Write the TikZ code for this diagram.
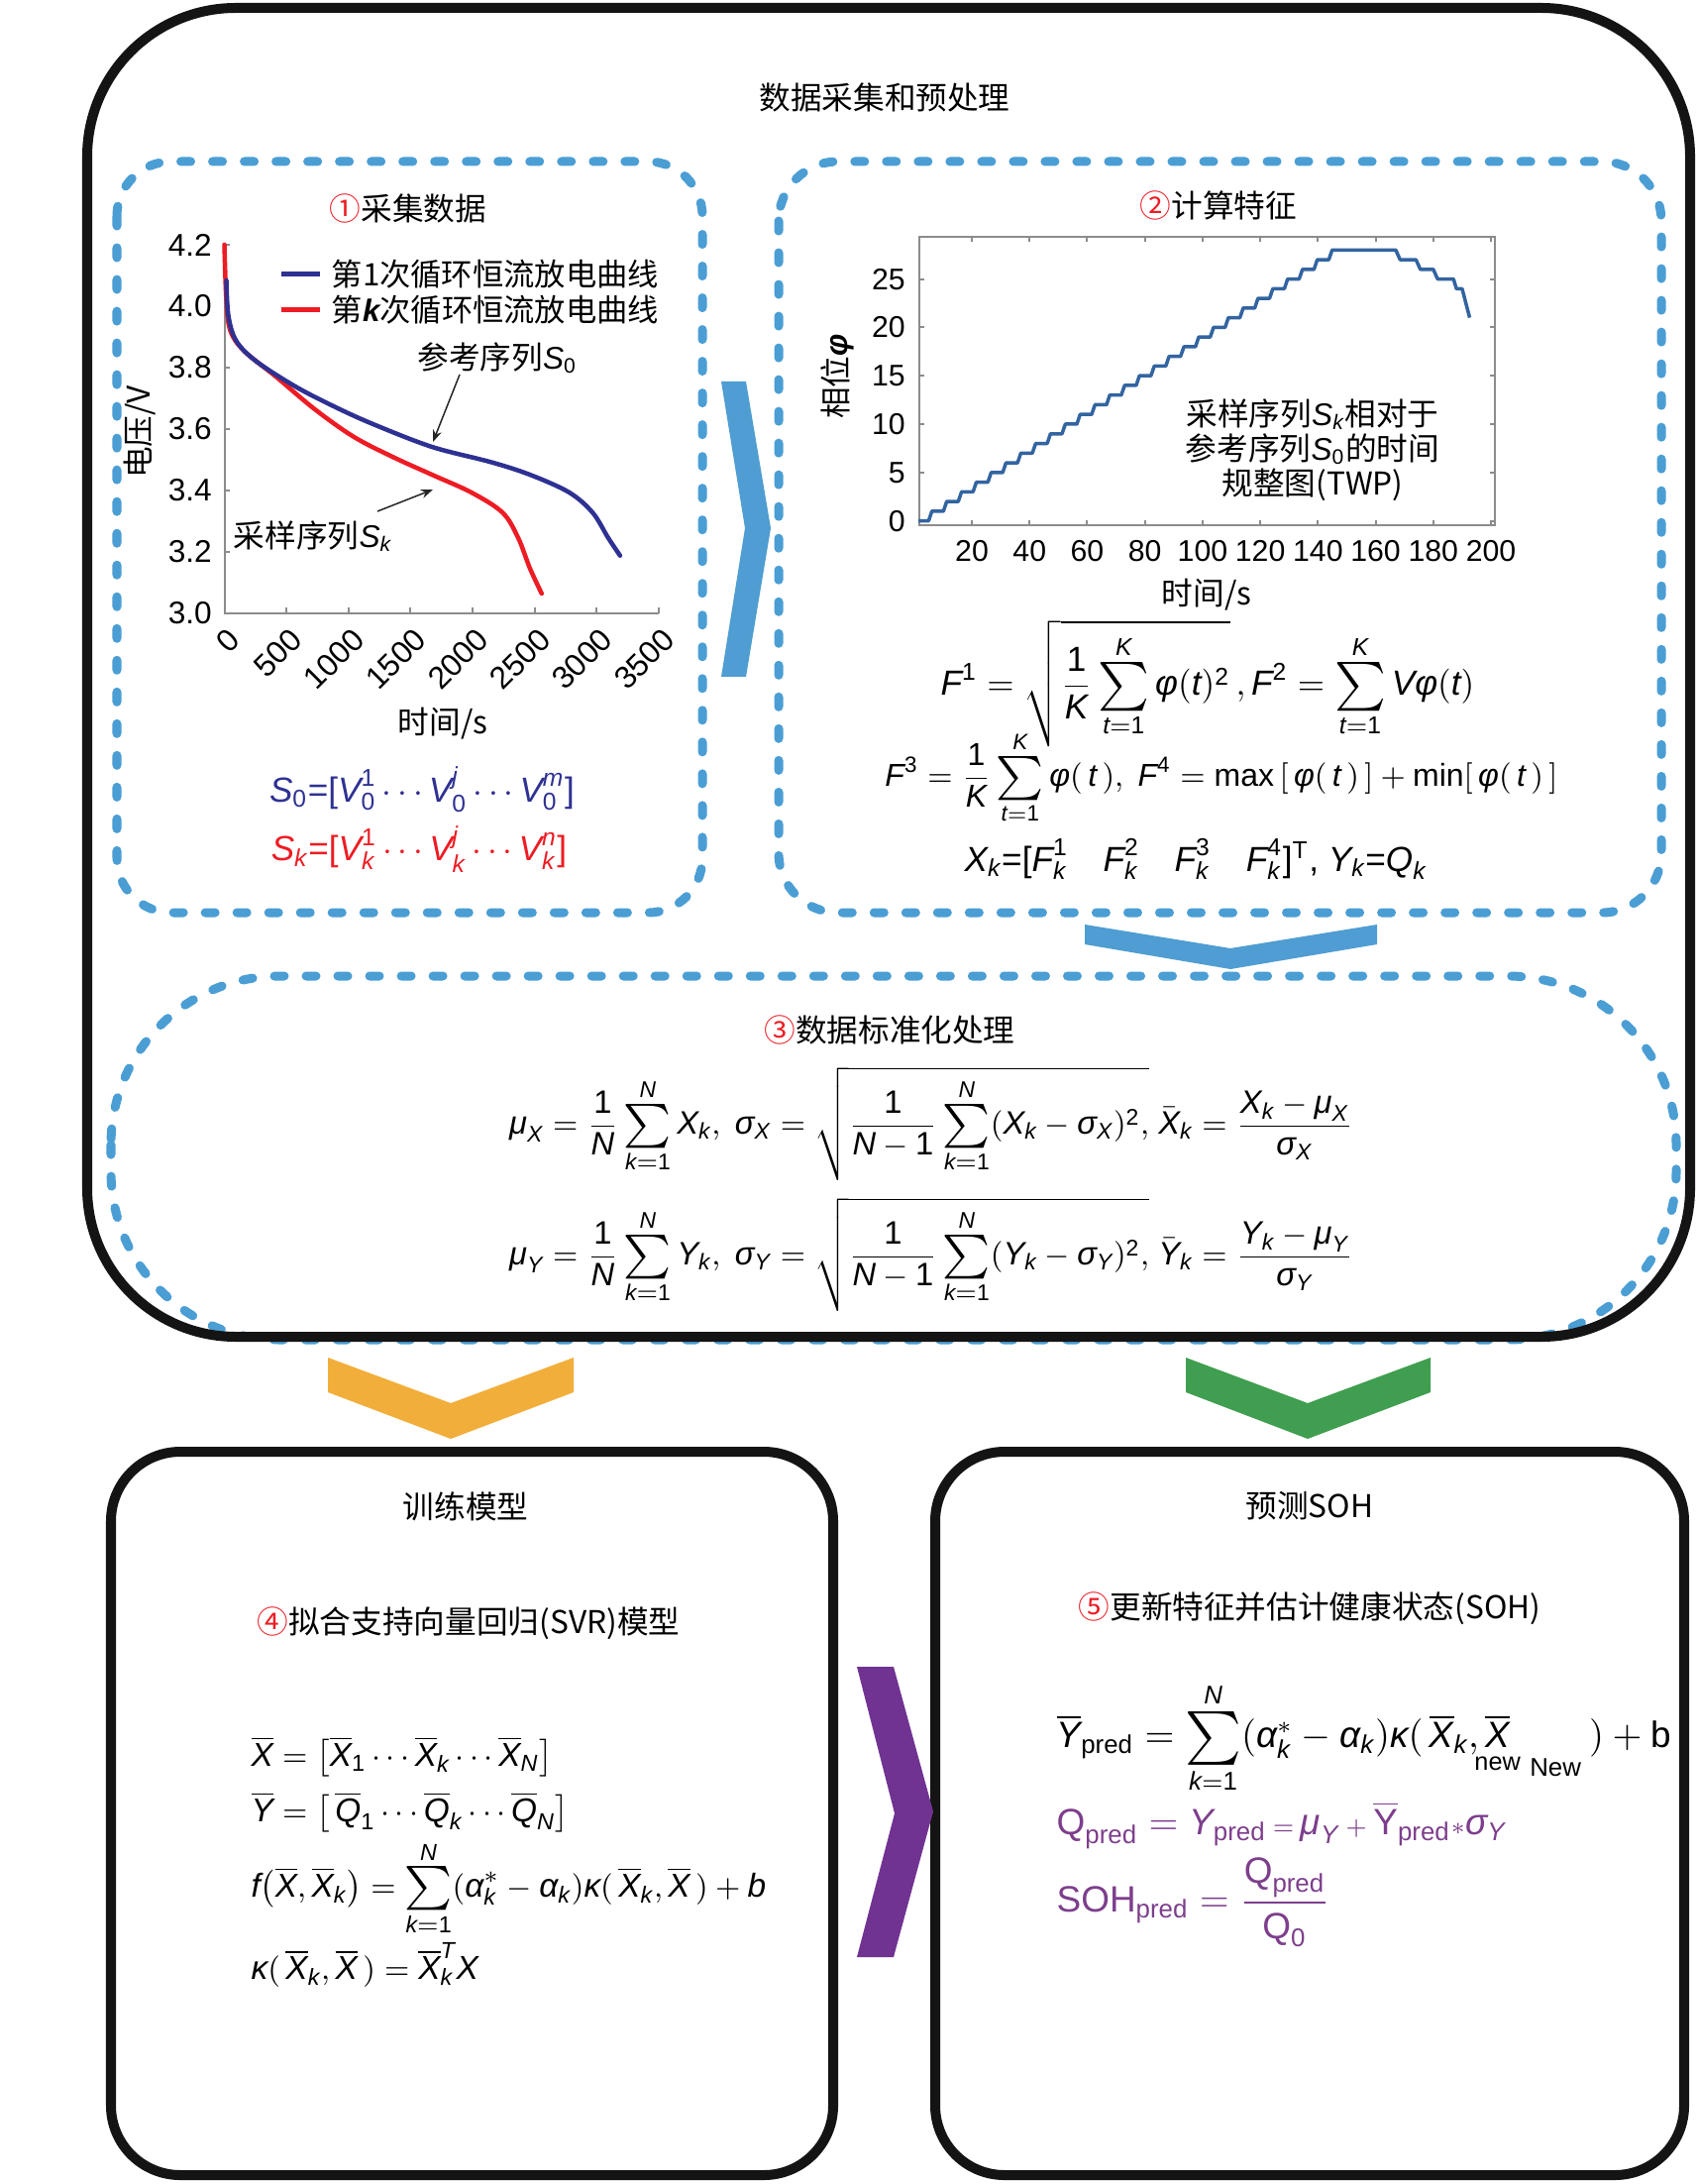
\documentclass[tikz,border=0pt]{standalone}
\usepackage{amsmath}
\usepackage{graphicx}
\usepackage{fontspec}
\setmainfont{Liberation Sans}
\newfontfamily\cjk{Noto Sans CJK SC}
\usetikzlibrary{arrows.meta}
\definecolor{dashblue}{RGB}{75,158,212}
\definecolor{chevblue}{RGB}{79,157,210}
\definecolor{chevorange}{RGB}{242,174,58}
\definecolor{chevgreen}{RGB}{64,158,80}
\definecolor{chevpurple}{RGB}{112,51,145}
\definecolor{ptext}{RGB}{125,62,140}
\definecolor{sblue}{RGB}{46,49,146}
\definecolor{sred}{RGB}{237,28,36}
\definecolor{stepblue}{RGB}{50,100,160}
\newcommand\mi[1]{\textit{#1}}
\newcommand\dg[1]{\textup{#1}}
\newcommand\msum{\mathop{\vcenter{\hbox{\scalebox{1.4}{$\textstyle\sum$}}}}\limits}
\tikzset{
  dbox/.style={draw=dashblue, line width=0.09cm, line cap=round, dash pattern=on 0.1cm off 0.22cm},
  obox/.style={draw=black!92, line width=0.1cm},
  title/.style={font=\fontsize{9}{11}\selectfont\cjk, inner sep=0pt},
  tick/.style={font=\fontsize{9}{11}\selectfont, inner sep=1pt},
  tickb/.style={font=\fontsize{8.6}{10}\selectfont, inner sep=1pt},
  legtext/.style={font=\fontsize{8.9}{11}\selectfont\cjk, inner sep=0pt, anchor=west},
  ann/.style={font=\fontsize{9}{11}\selectfont\cjk, inner sep=0pt},
  annarrow/.style={draw=black!85, line width=0.015cm, -{Stealth[length=0.12cm,width=0.09cm]}},
  axisline/.style={draw=black!45, line width=0.02cm},
  fml/.style={inner sep=0pt},
}
\begin{document}
\begin{tikzpicture}[x=0.01cm,y=-0.01cm]
\useasboundingbox (0,0) rectangle (1713,2204);
\fill[white] (0,0) rectangle (1713,2204);

% ---------------- boxes ----------------
\draw[dbox, rounded corners=0.55cm] (118,163) rectangle (709,921);
\draw[dbox, rounded corners=0.6cm] (786,163) rectangle (1677,921);
\draw[dbox, rounded corners=1.7cm] (112,985) rectangle (1692,1352);
\draw[obox, rounded corners=1.5cm] (88,8) rectangle (1706,1349);
\draw[obox, rounded corners=0.7cm] (112,1465) rectangle (841,2195);
\draw[obox, rounded corners=0.7cm] (944,1465) rectangle (1700,2195);

% ---------------- chevrons ----------------
\fill[chevblue] (728,385) -- (753,385) -- (778,533) -- (753,683) -- (728,683) -- (752,533) -- cycle;
\fill[chevblue] (1095,933) -- (1242,957) -- (1390,933) -- (1390,953) -- (1242,978) -- (1095,953) -- cycle;
\fill[chevorange] (331,1370) -- (455,1416) -- (579,1370) -- (579,1405) -- (455,1452) -- (331,1405) -- cycle;
\fill[chevgreen] (1197,1370) -- (1320,1416) -- (1444,1370) -- (1444,1405) -- (1320,1452) -- (1197,1405) -- cycle;
\fill[chevpurple] (865,1682) -- (902,1682) -- (942,1828) -- (902,1975) -- (865,1975) -- (903,1830) -- cycle;

% ---------------- titles ----------------
\node[title] (tmain) at (893,98) {数据采集和预处理};
\node[title] (t1) at (412,210) {{\color{sred}①}采集数据};
\node[title] (t2) at (1230,207) {{\color{sred}②}计算特征};
\node[title] (t3) at (898,1039) {{\color{sred}③}数据标准化处理};
\node[title] (t4) at (470,1520) {训练模型};
\node[title] (t4b) at (473,1638) {{\color{sred}④}拟合支持向量回归(SVR)模型};
\node[title] (t5) at (1322,1520) {预测SOH};
\node[title] (t5b) at (1322,1623) {{\color{sred}⑤}更新特征并估计健康状态(SOH)};

% ---------------- plot 1 ----------------
\draw[axisline] (226.5,247) -- (226.5,619) -- (665,619);
\foreach \t [count=\i] in {0,500,1000,1500,2000,2500,3000,3500}{
  \draw[axisline] ({226.5+0.1253*\t},619) -- ({226.5+0.1253*\t},613);
  \node[tick, rotate=45, anchor=east] (px\i) at ({239.5+0.1253*\t},637) {\t};
}
\foreach \v/\lab [count=\i] in {0/3.0,1/3.2,2/3.4,3/3.6,4/3.8,5/4.0,6/4.2}{
  \draw[axisline] (226.5,{619-62*\v}) -- (232,{619-62*\v});
  \node[tick, anchor=east] (py\i) at (218,{619-62*\v}) {\lab};
}
\node[title, rotate=90] (ylab1) at (141,436) {电压/V};
\node[title] (xlab1) at (447,730) {时间/s};
% curves
\draw[sred, line width=0.045cm, line cap=round] plot[smooth, tension=0.55] coordinates {
 (226.5,246.9) (228.5,303.1) (232.5,333.7) (246.3,354.1) (277.9,379.6) (317.5,412.8) (357.0,440.8)
 (396.6,461.2) (436.1,479.1) (475.6,496.9) (507.3,517.3) (523.1,542.9) (534.9,573.5) (546.8,599.0)};
\draw[sblue, line width=0.045cm, line cap=round] plot[smooth, tension=0.55] coordinates {
 (228.5,283) (230.5,318.4) (238.4,343.9) (258.2,364.3) (297.7,389.8) (337.2,410.2) (376.8,428.1)
 (436.1,451.0) (495.4,466.3) (535.0,479.1) (574.5,496.9) (598.2,517.3) (614.0,542.9) (625.9,560.7)};
% legend
\draw[sblue, line width=0.05cm] (284,277) coordinate (lg1a) -- (323,277) coordinate (lg1b);
\node[legtext] (lg1) at (334,277) {第1次循环恒流放电曲线};
\draw[sred, line width=0.05cm] (284,313) coordinate (lg2a) -- (323,313) coordinate (lg2b);
\node[legtext] (lg2) at (334,313) {第{\fontspec{Liberation Sans}\bfseries\itshape k}次循环恒流放电曲线};
% annotations
\node[ann] (ref0) at (502,361) {参考序列{\fontspec{Liberation Sans}$\mi{S}_{\dg{0}}$}};
\node[ann] (samp) at (316,541) {采样序列{\fontspec{Liberation Sans}$\mi{S}_{\mi{k}}$}};
\coordinate (a1s) at (464,378);
\coordinate (a1e) at (437,446);
\coordinate (a2s) at (381,516);
\coordinate (a2e) at (437,494);
\draw[annarrow] (a1s) -- (a1e);
\draw[annarrow] (a2s) -- (a2e);
% sequences
\node[fml, text=sblue, font=\fontsize{10}{12}\selectfont] (s0) at (426,797)
 {$\mi{S}_{\dg{0}}$=[$\mi{V}_{\dg{0}}^{\dg{1}}\cdots\mi{V}_{\dg{0}}^{\mi{j}}\cdots\mi{V}_{\dg{0}}^{\mi{m}}$]};
\node[fml, text=sred, font=\fontsize{10}{12}\selectfont] (sk) at (423,857)
 {$\mi{S}_{\mi{k}}$=[$\mi{V}_{\mi{k}}^{\dg{1}}\cdots\mi{V}_{\mi{k}}^{\mi{j}}\cdots\mi{V}_{\mi{k}}^{\mi{n}}$]};

% ---------------- plot 2 ----------------
\draw[axisline] (928,239.5) rectangle (1509,530);
\foreach \t [count=\i] in {20,40,...,200}{
  \draw[axisline] ({922.8+2.911*\t},530) -- ({922.8+2.911*\t},525);
  \draw[axisline] ({922.8+2.911*\t},239.5) -- ({922.8+2.911*\t},244.5);
  \node[tickb, anchor=north] (qx\i) at ({922.8+2.911*\t},541) {\t};
}
\foreach \v [count=\i] in {0,5,...,25}{
  \draw[axisline] (928,{525.6-9.76*\v}) -- (933,{525.6-9.76*\v});
  \draw[axisline] (1509,{525.6-9.76*\v}) -- (1504,{525.6-9.76*\v});
  \node[tickb, anchor=east] (qy\i) at (918,{525.6-9.76*\v}) {\v};
}
\node[title, rotate=90] (ylab2) at (845,380) {相位{\fontspec{Liberation Sans}\bfseries\itshape φ}};
\node[title] (xlab2) at (1218,600) {时间/s};
\draw[stepblue, line width=0.035cm, line join=round] ({922.8+2.911*1.5},525.6)
  \foreach \k in {0,...,27}{ -- ({922.8+2.911*(5+5.14*\k)},{525.6-9.76*\k}) -- ({922.8+2.911*(6.14+5.14*\k)},{525.6-9.76*(\k+1)}) }
  -- (1408.9,252.3) -- (1413.3,262.1) -- (1429.3,262.1) -- (1433.7,271.8) -- (1446.8,271.8) -- (1451.1,281.6)
  -- (1467.2,281.6) -- (1470.1,291.4) -- (1475.9,291.4) -- (1483.5,320.6);
\node[ann, align=center] (twp) at (1325,454) {采样序列{\fontspec{Liberation Sans}$\mi{S}_{\mi{k}}$}相对于\\[-1pt]参考序列{\fontspec{Liberation Sans}$\mi{S}_{\dg{0}}$}的时间\\[-1pt]规整图(TWP)};

% formulas box 2
\node[fml, font=\fontsize{10}{12}\selectfont] (f1) at (1219,690)
 {$\mi{F}^{\dg{1}} = \sqrt{\dfrac{\dg{1}}{\mi{K}}\msum_{\mi{t}=\dg{1}}^{\mi{K}}\mi{φ}(\mi{t})^{\dg{2}}}\,,\mi{F}^{\dg{2}} = \msum_{\mi{t}=\dg{1}}^{\mi{K}}\mi{V}\mi{φ}(\mi{t})$};
\node[fml, font=\fontsize{9.1}{11}\selectfont] (f3) at (1233,785)
 {$\mi{F}^{\dg{3}} = \dfrac{\dg{1}}{\mi{K}}\msum_{\mi{t}=\dg{1}}^{\mi{K}}\mi{φ}(\,\mi{t}\,),\ \mi{F}^{\dg{4}} = \max\,[\,\mi{φ}(\,\mi{t}\,)\,] + \min[\,\mi{φ}(\,\mi{t}\,)\,]$};
\node[fml, font=\fontsize{10}{12}\selectfont] (fx) at (1207,867)
 {$\mi{X}_{\mi{k}}$=[$\mi{F}_{\mi{k}}^{\dg{1}}\quad\mi{F}_{\mi{k}}^{\dg{2}}\quad\mi{F}_{\mi{k}}^{\dg{3}}\quad\mi{F}_{\mi{k}}^{\dg{4}}$]$^{\mathrm{T}}$, $\mi{Y}_{\mi{k}}$=$\mi{Q}_{\mi{k}}$};

% formulas box 3
\node[fml, font=\fontsize{9.3}{11}\selectfont] (g1) at (940,1134)
 {$\mi{μ}_{\mi{X}} = \dfrac{\dg{1}}{\mi{N}}\msum_{\mi{k}=\dg{1}}^{\mi{N}}\mi{X}_{\mi{k}},\ \mi{σ}_{\mi{X}} = \sqrt{\dfrac{\dg{1}}{\mi{N}-\dg{1}}\msum_{\mi{k}=\dg{1}}^{\mi{N}}(\mi{X}_{\mi{k}}-\mi{σ}_{\mi{X}})^{\dg{2}},}\ \bar{\mi{X}}_{\mi{k}} = \dfrac{\mi{X}_{\mi{k}}-\mi{μ}_{\mi{X}}}{\mi{σ}_{\mi{X}}}$};
\node[fml, font=\fontsize{9.3}{11}\selectfont] (g2) at (940,1266)
 {$\mi{μ}_{\mi{Y}} = \dfrac{\dg{1}}{\mi{N}}\msum_{\mi{k}=\dg{1}}^{\mi{N}}\mi{Y}_{\mi{k}},\ \mi{σ}_{\mi{Y}} = \sqrt{\dfrac{\dg{1}}{\mi{N}-\dg{1}}\msum_{\mi{k}=\dg{1}}^{\mi{N}}(\mi{Y}_{\mi{k}}-\mi{σ}_{\mi{Y}})^{\dg{2}},}\ \bar{\mi{Y}}_{\mi{k}} = \dfrac{\mi{Y}_{\mi{k}}-\mi{μ}_{\mi{Y}}}{\mi{σ}_{\mi{Y}}}$};

% formulas box 4
\node[fml, anchor=west, font=\fontsize{9.5}{12}\selectfont] (h1) at (253,1773)
 {$\overline{\mi{X}} = \big[\overline{\mi{X}}_{\dg{1}}\cdots\overline{\mi{X}}_{\mi{k}}\cdots\overline{\mi{X}}_{\mi{N}}\big]$};
\node[fml, anchor=west, font=\fontsize{9.5}{12}\selectfont] (h2) at (253,1829)
 {$\overline{\mi{Y}} = \big[\,\overline{\mi{Q}}_{\dg{1}}\cdots\overline{\mi{Q}}_{\mi{k}}\cdots\overline{\mi{Q}}_{\mi{N}}\big]$};
\node[fml, anchor=west, font=\fontsize{9.5}{12}\selectfont] (h3) at (253,1906)
 {$\mi{f}\big(\overline{\mi{X}},\overline{\mi{X}}_{\mi{k}}\big) = \msum_{\mi{k}=\dg{1}}^{\mi{N}}(\mi{α}_{\mi{k}}^{*}-\mi{α}_{\mi{k}})\mi{κ}(\,\overline{\mi{X}}_{\mi{k}},\overline{\mi{X}}\,) + \mi{b}$};
\node[fml, anchor=west, font=\fontsize{9.5}{12}\selectfont] (h4) at (253,1983)
 {$\mi{κ}(\,\overline{\mi{X}}_{\mi{k}},\overline{\mi{X}}\,) = \overline{\mi{X}}_{\mi{k}}^{\mi{T}}\mi{X}$};

% formulas box 5
\node[fml, anchor=west, font=\fontsize{10.5}{13}\selectfont] (p1) at (1066,1754)
 {$\overline{\mi{Y}}_{\text{pred}} = \msum_{\mi{k}=\dg{1}}^{\mi{N}}(\mi{α}_{\mi{k}}^{*}-\mi{α}_{\mi{k}})\mi{κ}(\,\overline{\mi{X}}_{\mi{k}},\underset{\makebox[0pt]{\fontsize{7.2}{8}\selectfont new}}{\overline{\mi{X}}}_{\hspace{0.55em}\text{New}}\,) + \text{b}$};
\node[fml, anchor=west, text=ptext, font=\fontsize{10.5}{12}\selectfont] (p2) at (1066,1842)
 {$\text{Q}_{\text{pred}} = \mi{Y}_{\text{pred}}\,{\scriptstyle =}\,\mi{μ}_{\mi{Y}}\,{\scriptstyle +}\,\overline{\text{Y}}_{\text{pred}}{\scriptstyle *}\mi{σ}_{\mi{Y}}$};
\node[fml, anchor=west, text=ptext, font=\fontsize{10.5}{12}\selectfont] (p3) at (1066,1920)
 {$\text{SOH}_{\text{pred}} = \dfrac{\text{Q}_{\text{pred}}}{\text{Q}_{\dg{0}}}$};
\end{tikzpicture}
\end{document}
